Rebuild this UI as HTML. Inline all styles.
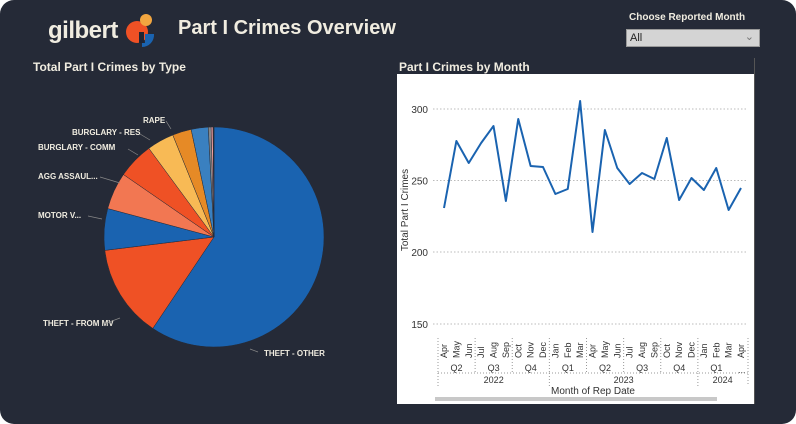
<!DOCTYPE html>
<html><head><style>
body{margin:0;width:796px;height:424px;background:#fff;overflow:hidden;font-family:"Liberation Sans",sans-serif}
#bg{position:absolute;left:0;top:0;width:796px;height:424px;background:#252a37;border-radius:14px}
.t{position:absolute;color:#f0ece0;font-weight:bold;white-space:nowrap}
</style></head><body>
<div id="bg"></div>
<div class="t" style="left:48px;top:17px;font-size:24px;letter-spacing:-0.5px">gilbert</div>
<svg style="position:absolute;left:125px;top:12px" width="32" height="36">
<circle cx="12" cy="20" r="11" fill="#ef5125"/><circle cx="21" cy="8" r="6" fill="#f2a640"/>
<rect x="14" y="20" width="5" height="11" fill="#1f2433"/><path d="M20 22 h9 a12 12 0 0 1 -12 13 v-4 h3 z" fill="#1a63b0"/></svg>
<div class="t" style="left:178px;top:17px;font-size:20px">Part I Crimes Overview</div>
<div class="t" style="left:33px;top:60px;font-size:12px">Total Part I Crimes by Type</div>
<div class="t" style="left:629px;top:12px;font-size:10px">Choose Reported Month</div>
<div style="position:absolute;left:626px;top:29px;width:134px;height:18px;background:#d4d4d4;border:1px solid #999;box-sizing:border-box;font-size:11px;color:#222;padding:2px 3px">All<span style="position:absolute;right:5px;top:0;color:#777">&#8964;</span></div>
<div class="t" style="left:399px;top:60px;font-size:12px">Part I Crimes by Month</div>
<div style="position:absolute;left:397px;top:74px;width:357px;height:330px;background:#fff"></div>
<div style="position:absolute;left:754px;top:58px;width:1px;height:346px;background:#555"></div>
<svg id="s" style="position:absolute;left:0;top:0" width="796" height="424"></svg>
<script>
var s='';var cx=214,cy=237,r=110;
var sl=[[0,213.8,'#1a63b0'],[213.8,263,'#ef5125'],[263,285,'#1a63b0'],[285,304.6,'#f27752'],[304.6,323.7,'#ef5125'],[323.7,338,'#f8ba55'],[338,348,'#e68a26'],[348,357,'#3a80c0'],[357,358.5,'#888'],[358.5,359.5,'#f6a0a0'],[359.5,360,'#333']];
function pt(a){a=a*Math.PI/180;return [cx+r*Math.sin(a),cy-r*Math.cos(a)];}
sl.forEach(function(x){var p=pt(x[0]),q=pt(x[1]);s+='<path d="M'+cx+' '+cy+'L'+p[0]+' '+p[1]+'A'+r+' '+r+' 0 '+(x[1]-x[0]>180?1:0)+' 1 '+q[0]+' '+q[1]+'Z" fill="'+x[2]+'" stroke="#252a37" stroke-width="0.5"/>';});
var labs=[['RAPE',143,123,170,128],['BURGLARY - RES',72,135,150,140],['BURGLARY - COMM',38,150,136,155],['AGG ASSAUL...',38,179,118,183],['MOTOR V...',38,218,103,218],['THEFT - FROM MV',43,326,120,318],['THEFT - OTHER',264,356,250,350]];
labs.forEach(function(l){s+='<text x="'+l[1]+'" y="'+l[2]+'" font-size="8" font-weight="bold" fill="#f0ece0">'+l[0]+'</text>';});
s+='<path d="M166 121 l5 8 M140 134 l10 6 M128 149 l10 6 M100 177 l20 6 M88 216 l14 3 M104 324 l16 -6 M258 352 l-8 -3" stroke="#888" stroke-width="0.7" fill="none"/>';
[[300,109],[250,180.5],[200,252],[150,324]].forEach(function(g){s+='<line x1="433" x2="748" y1="'+g[1]+'" y2="'+g[1]+'" stroke="#bbb" stroke-dasharray="1.5 2"/><text x="428" y="'+(g[1]+4)+'" font-size="10" fill="#333" text-anchor="end">'+g[0]+'</text>';});
s+='<text transform="translate(408 210) rotate(-90)" font-size="10" fill="#333" text-anchor="middle">Total Part I Crimes</text>';
var ys=[208,141,163,143,126,201,119,166,167,194,189,101,232,130,168,184,173,179,138,200,178,190,168,210,188];
var d='';ys.forEach(function(y,i){d+=(i?'L':'M')+(444+i*12.375)+' '+y;});
s+='<path d="'+d+'" fill="none" stroke="#1a63b0" stroke-width="2" stroke-linejoin="round"/>';
var m=['Apr','May','Jun','Jul','Aug','Sep','Oct','Nov','Dec','Jan','Feb','Mar','Apr','May','Jun','Jul','Aug','Sep','Oct','Nov','Dec','Jan','Feb','Mar','Apr'];
m.forEach(function(t,i){var x=444+i*12.375+3;s+='<text transform="translate('+x+' 358) rotate(-90)" font-size="9" fill="#333">'+t+'</text>';});
var q=[['Q2',0,3],['Q3',3,6],['Q4',6,9],['Q1',9,12],['Q2',12,15],['Q3',15,18],['Q4',18,21],['Q1',21,24]];
function bx(i){return 438+i*12.375;}
q.forEach(function(a){s+='<text x="'+((bx(a[1])+bx(a[2]))/2)+'" y="371" font-size="9" fill="#333" text-anchor="middle">'+a[0]+'</text>';s+='<line x1="'+bx(a[1])+'" x2="'+bx(a[1])+'" y1="338" y2="374" stroke="#999" stroke-dasharray="1 2"/>';});
s+='<text x="738" y="373" font-size="9" fill="#333">...</text>';
s+='<line x1="438" x2="748" y1="373" y2="373" stroke="#999" stroke-dasharray="1 2"/>';
[['2022',0,9],['2023',9,21],['2024',21,25]].forEach(function(a){s+='<text x="'+((bx(a[1])+bx(a[2]))/2)+'" y="383" font-size="9" fill="#333" text-anchor="middle">'+a[0]+'</text>';s+='<line x1="'+bx(a[1])+'" x2="'+bx(a[1])+'" y1="373" y2="386" stroke="#999" stroke-dasharray="1 2"/>';});
s+='<line x1="748" x2="748" y1="338" y2="386" stroke="#999" stroke-dasharray="1 2"/>';
s+='<text x="593" y="394" font-size="10" fill="#333" text-anchor="middle">Month of Rep Date</text>';
s+='<rect x="435" y="397" width="282" height="4" fill="#c8c8c8"/>';
document.getElementById('s').innerHTML=s;
</script>
</body></html>
